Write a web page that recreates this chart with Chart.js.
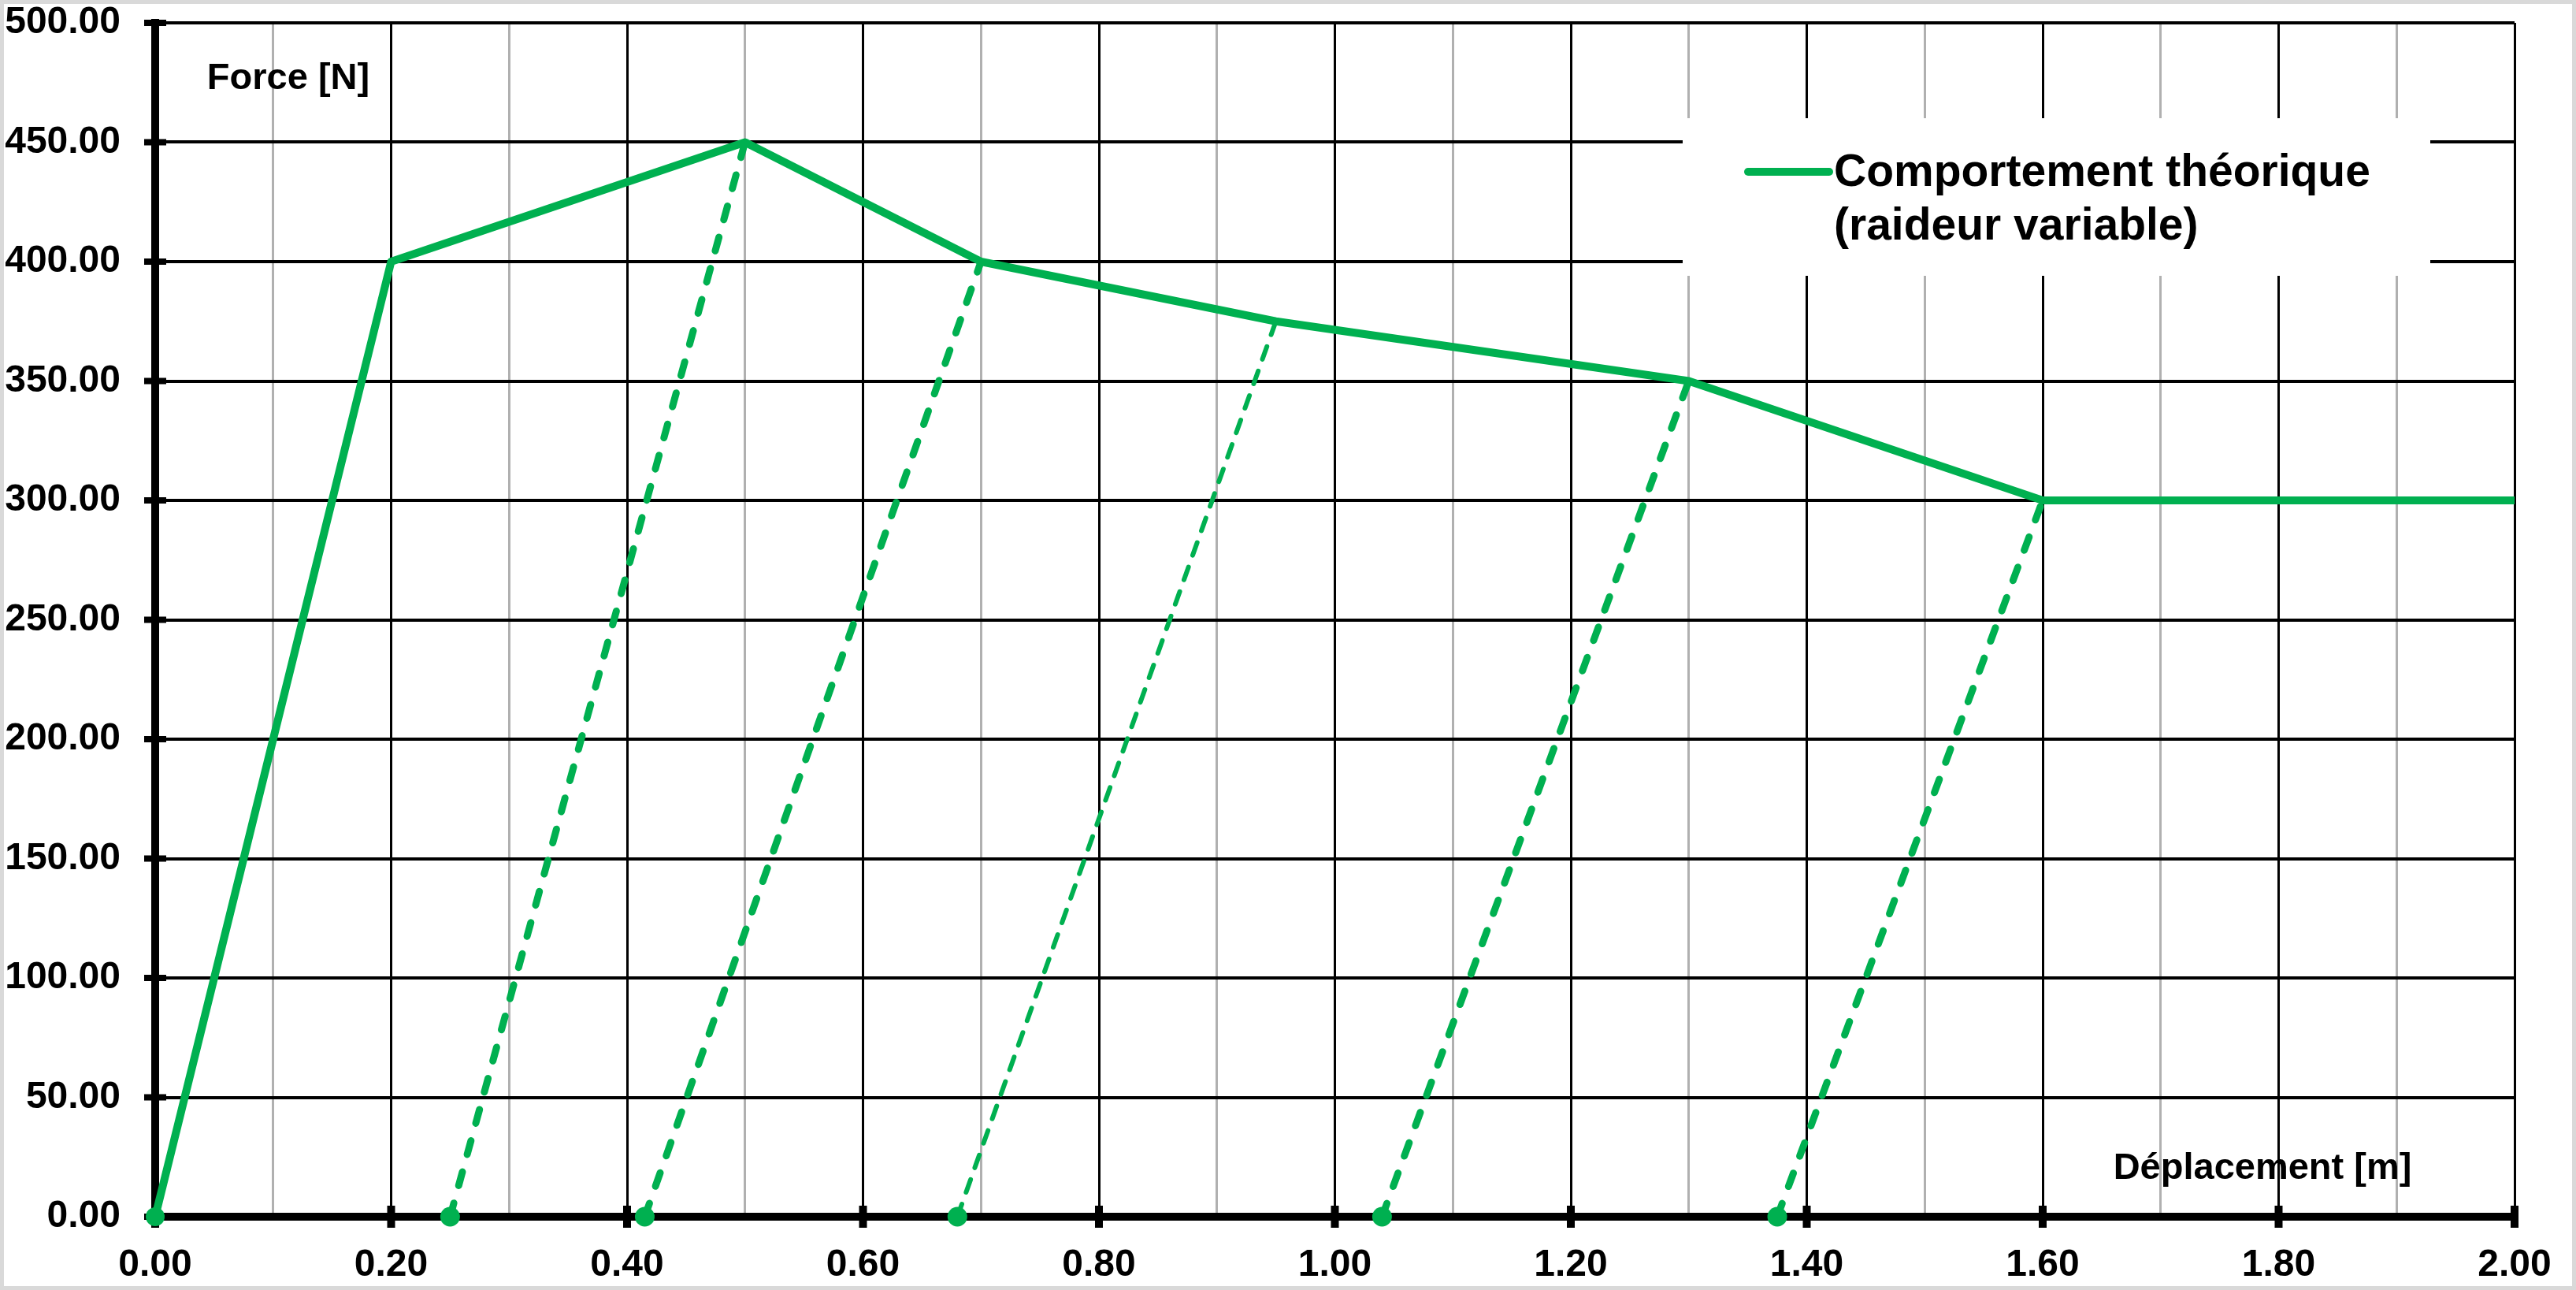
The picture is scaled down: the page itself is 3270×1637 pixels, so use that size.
<!DOCTYPE html>
<html>
<head>
<meta charset="utf-8">
<script src="https://cdn.jsdelivr.net/npm/chart.js@4/dist/chart.umd.min.js"></script>
<style>
  body { margin: 0; background: #fff; }
  canvas { display: block; }
</style>
</head>
<body>
<canvas id="line-chart" width="3270" height="1637"></canvas>
<script>
// courbe théorique (raideur variable)
const dispMain = [0, 0.2, 0.5, 0.7, 0.95, 1.3, 1.6, 2.0];
const forceMain = [0, 400, 450, 400, 375, 350, 300, 300];

// décharges : point de départ sur la courbe -> déplacement résiduel
const unloadX = [0.5, 0.7, 0.95, 1.3, 1.6];
const unloadF = [450, 400, 375, 350, 300];
const residualX = [0.25, 0.415, 0.68, 1.04, 1.375];

const xTitle = 'Déplacement [m]';
const yTitle = 'Force [N]';
const legendLines = ['Comportement théorique', '(raideur variable)'];

const green = '#00b050';
const font = 'Liberation Sans, Arial, sans-serif';

let datasets = [{
    label: legendLines,
    data: dispMain.map((x, i) => ({x: x, y: forceMain[i]})),
    borderColor: green,
    backgroundColor: green,
    borderWidth: 10,
    pointRadius: dispMain.map((x, i) => i == 0 ? 12 : 0),
    pointBorderWidth: 0,
    showLine: true,
    borderJoinStyle: 'round',
    clip: false
}];

for (let i = 0; i < unloadX.length; i++) {
    let thin = (i == 2);
    datasets.push({
        label: 'decharge ' + (i + 1),
        data: [{x: residualX[i], y: 0}, {x: unloadX[i], y: unloadF[i]}],
        borderColor: green,
        backgroundColor: green,
        borderWidth: thin ? 6 : 9,
        borderDash: thin ? [17, 16] : [18, 23],
        borderCapStyle: 'round',
        pointRadius: [12.5, 0],
        pointBorderWidth: 0,
        showLine: true,
        clip: false
    });
}

const frame = {
    id: 'frame',
    beforeDraw(chart) {
        let c = chart.ctx;
        c.save();
        c.fillStyle = '#fff';
        c.fillRect(0, 0, chart.width, chart.height);
        c.strokeStyle = '#d9d9d9';
        c.lineWidth = 10;
        c.strokeRect(0, 0, chart.width, chart.height);
        c.restore();
    }
};

// légende dans la zone de tracé + ticks en croix + titres d'axes
const overlay = {
    id: 'overlay',
    beforeDatasetsDraw(chart) {
        let c = chart.ctx;
        let a = chart.chartArea;
        let xs = chart.scales.x, ys = chart.scales.y;
        c.save();
        // fond blanc de la légende
        let bx = a.right - 1056, by = a.top + 121;
        c.fillStyle = '#fff';
        c.fillRect(bx, by, 949, 200);
        // ticks en croix
        c.fillStyle = '#000';
        xs.ticks.forEach(t => {
            if (Math.round(t.value * 10) % 2 == 0) {
                let px = xs.getPixelForValue(t.value);
                c.fillRect(px - 5, a.bottom - 14, 10, 28);
            }
        });
        ys.ticks.forEach(t => {
            let py = ys.getPixelForValue(t.value);
            c.fillRect(a.left - 14, py - 4, 28, 8);
        });
        // titres
        c.fillStyle = '#000';
        c.font = 'bold 47px ' + font;
        c.textAlign = 'center';
        c.textBaseline = 'middle';
        c.fillText(yTitle, a.left + 169, a.top + 71);
        c.fillText(xTitle, a.right - 320, a.bottom - 61);
        c.restore();
    },
    afterDatasetsDraw(chart) {
        let c = chart.ctx;
        let a = chart.chartArea;
        let ds = chart.data.datasets[0];
        let bx = a.right - 1056, by = a.top + 121;
        c.save();
        c.strokeStyle = ds.borderColor;
        c.lineWidth = 10;
        c.lineCap = 'round';
        c.beginPath();
        c.moveTo(bx + 83, by + 68);
        c.lineTo(bx + 186, by + 68);
        c.stroke();
        c.fillStyle = '#000';
        c.font = 'bold 57px ' + font;
        c.textAlign = 'left';
        c.textBaseline = 'alphabetic';
        ds.label.forEach((l, i) => c.fillText(l, bx + 192, by + 86 + i * 68));
        c.restore();
    }
};

new Chart(document.getElementById('line-chart'), {
    type: 'scatter',
    data: { datasets: datasets },
    plugins: [frame, overlay],
    options: {
        responsive: false,
        animation: false,
        devicePixelRatio: 1,
        layout: { padding: { left: 0, top: 29, right: 78, bottom: 0 } },
        plugins: {
            legend: { display: false },
            tooltip: { enabled: false }
        },
        scales: {
            x: {
                type: 'linear',
                min: 0,
                max: 2,
                afterFit: s => {
                    s.height = 93;
                    s.paddingLeft = 0;
                    s.paddingRight = 0;
                },
                ticks: {
                    stepSize: 0.1,
                    autoSkip: false,
                    maxRotation: 0,
                    padding: 33,
                    color: '#000',
                    font: { family: font, size: 48, weight: 'bold' },
                    callback: v => Math.round(v * 10) % 2 == 0 ? v.toFixed(2) : ''
                },
                grid: {
                    drawTicks: false,
                    lineWidth: 3,
                    color: ctx => (ctx.tick && Math.round(ctx.tick.value * 10) % 2 == 0) ? '#000' : '#b0b0b0'
                },
                border: { color: '#000', width: 10 }
            },
            y: {
                min: 0,
                max: 500,
                afterFit: s => {
                    s.width = 197;
                    s.paddingTop = 0;
                    s.paddingBottom = 0;
                },
                ticks: {
                    stepSize: 50,
                    padding: 44,
                    color: '#000',
                    font: { family: font, size: 48, weight: 'bold' },
                    callback: v => v.toFixed(2)
                },
                grid: {
                    drawTicks: false,
                    lineWidth: 4,
                    color: '#000'
                },
                border: { color: '#000', width: 10 }
            }
        }
    }
});
</script>
</body>
</html>
